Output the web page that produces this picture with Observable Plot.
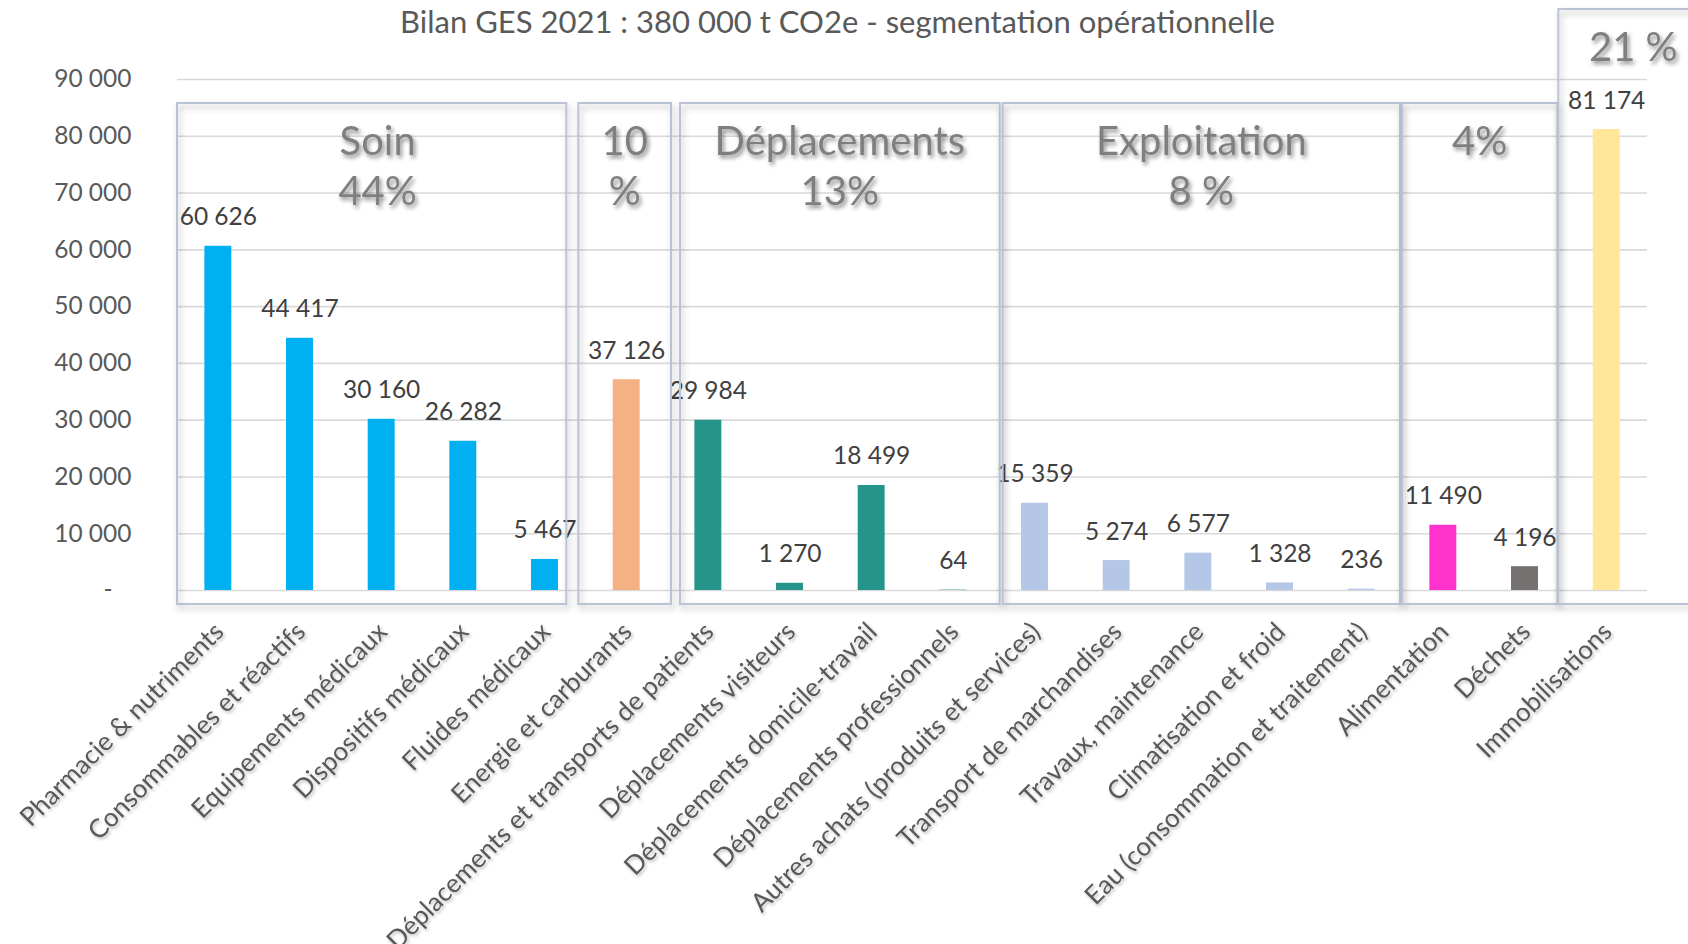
<!DOCTYPE html>
<html><head><meta charset="utf-8">
<script src="https://cdn.jsdelivr.net/npm/d3@7"></script>
<script src="https://cdn.jsdelivr.net/npm/@observablehq/plot@0.6"></script>
<style>
html,body{margin:0;padding:0;background:#fff;}
#chart svg{display:block;}
</style></head>
<body><div id="chart"></div>
<script>
const title = "Bilan GES 2021 : 380 000 t CO2e - segmentation opérationnelle";
const categories = [
  "Pharmacie & nutriments", "Consommables et réactifs", "Equipements médicaux",
  "Dispositifs médicaux", "Fluides médicaux", "Energie et carburants",
  "Déplacements et transports de patients", "Déplacements visiteurs",
  "Déplacements domicile-travail", "Déplacements professionnels",
  "Autres achats (produits et services)", "Transport de marchandises",
  "Travaux, maintenance", "Climatisation et froid", "Eau (consommation et traitement)",
  "Alimentation", "Déchets", "Immobilisations"
];
const values = [60626, 44417, 30160, 26282, 5467, 37126, 29984, 1270, 18499, 64,
  15359, 5274, 6577, 1328, 236, 11490, 4196, 81174];
const barColors = ["#00b0f0", "#00b0f0", "#00b0f0", "#00b0f0", "#00b0f0", "#f4b183",
  "#25958c", "#25958c", "#25958c", "#25958c",
  "#b4c7e7", "#b4c7e7", "#b4c7e7", "#b4c7e7", "#b4c7e7",
  "#ff33cc", "#767171", "#ffe699"];
const groupLabels = ["Soin\n44%", "10\n%", "Déplacements\n13%", "Exploitation\n8 %", "4%", "21 %"];
const groupFirst = [0, 5, 6, 10, 15, 17];
const groupLast = [4, 5, 9, 14, 16, 17];
const yTicks = [0, 10000, 20000, 30000, 40000, 50000, 60000, 70000, 80000, 90000];
const yTickLabels = ["-\u00a0\u00a0\u00a0", "10 000", "20 000", "30 000", "40 000", "50 000", "60 000", "70 000", "80 000", "90 000"];

const fmt = d3.formatLocale({thousands: " ", grouping: [3], decimal: ",", currency: ["", ""]}).format(",d");
const rows = categories.map((c, i) => ({category: c, value: values[i], color: barColors[i]}));

const W = 1688, H = 944;
const FONT = "Lato, 'Open Sans', sans-serif";
const plot = Plot.plot({
  width: W, height: H,
  marginLeft: 177, marginRight: 41, marginTop: 79, marginBottom: 354,
  style: {fontFamily: FONT, background: "#fff", overflow: "visible"},
  x: {domain: categories, paddingInner: 0.67, paddingOuter: 0.335, round: false, axis: null},
  y: {domain: [0, 90000], axis: null},
  color: {type: "identity"},
  marks: [
    Plot.ruleY(yTicks, {stroke: "#d9d9d9", strokeWidth: 1.6, dx: 0}),
    Plot.text(yTicks, {y: d => d, text: (d, i) => yTickLabels[i], frameAnchor: "left",
      textAnchor: "end", dx: -46, fill: "#595959", fontSize: 24.5}),
    Plot.barY(rows, {x: "category", y: "value", fill: "color"}),
    Plot.text(rows, {x: "category", y: "value", text: d => fmt(d.value), lineAnchor: "bottom",
      dy: -21, fill: "#404040", fontSize: 24.5}),
    Plot.text(rows, {x: "category", y: 0, text: "category", rotate: -45, textAnchor: "end",
      dy: 37, dx: 1, fill: "#595959", fontSize: 26}),
    Plot.text([title], {frameAnchor: "top", lineAnchor: "bottom", dy: -47, dx: -75,
      fill: "#595959", fontSize: 31})
  ]
});
document.getElementById("chart").appendChild(plot);

// Group boxes and group labels, placed with the plot's own scales
const svg = d3.select(plot);
const xs = plot.scale("x"), ys = plot.scale("y");
const pad = (xs.step - xs.bandwidth) / 2;
const defs = svg.append("defs");
const f1 = defs.append("filter").attr("id", "boxShadow").attr("x", "-10%").attr("y", "-10%").attr("width", "120%").attr("height", "120%");
f1.append("feDropShadow").attr("dx", 2).attr("dy", 4).attr("stdDeviation", 3).attr("flood-color", "#000").attr("flood-opacity", 0.28);
const f2 = defs.append("filter").attr("id", "textShadow").attr("x", "-20%").attr("y", "-20%").attr("width", "140%").attr("height", "160%");
f2.append("feDropShadow").attr("dx", 2).attr("dy", 3).attr("stdDeviation", 2.2).attr("flood-color", "#000").attr("flood-opacity", 0.45);
const f3 = defs.append("filter").attr("id", "labelShadow").attr("x", "-10%").attr("y", "-10%").attr("width", "120%").attr("height", "120%");
f3.append("feDropShadow").attr("dx", 1.5).attr("dy", 2).attr("stdDeviation", 1.5).attr("flood-color", "#000").attr("flood-opacity", 0.25);
const textGroups = svg.selectAll('g[aria-label="text"]').nodes();
if (textGroups[2]) d3.select(textGroups[2]).attr("filter", "url(#labelShadow)");

// small hand offsets (px) of the drawn frames relative to the band edges
const boxNudgeLeft = [0, -7, 13, 9, 0, -7];
const boxNudgeRight = [-19, 4, 6, -2, -8, 0];
const top0 = ys.apply(90000) + 24, bottom0 = ys.apply(0) + 14;
const g = svg.append("g");
groupLabels.forEach((lab, k) => {
  const last = k === groupLabels.length - 1;
  const x1 = xs.apply(categories[groupFirst[k]]) - pad + boxNudgeLeft[k];
  const x2 = last ? W + 10 : xs.apply(categories[groupLast[k]]) + xs.bandwidth + pad + boxNudgeRight[k];
  const y1 = last ? 9 : top0;
  g.append("rect").attr("x", x1).attr("y", y1).attr("width", x2 - x1).attr("height", bottom0 - y1)
    .attr("fill", "none").attr("stroke", "#b9c3d3").attr("stroke-width", 2).attr("filter", "url(#boxShadow)");
  const cx = last ? x1 + 75 : (x1 + x2) / 2 + (k === 0 ? 6 : 0);
  const t = g.append("text").attr("text-anchor", "middle").attr("fill", "#7f7f7f")
    .attr("font-size", 40).attr("font-family", FONT)
    .attr("filter", "url(#textShadow)");
  lab.split("\n").forEach((line, j) => {
    t.append("tspan").attr("x", cx).attr("y", (last ? 61 : 155) + j * 50).text(line);
  });
});
</script>
</body></html>
